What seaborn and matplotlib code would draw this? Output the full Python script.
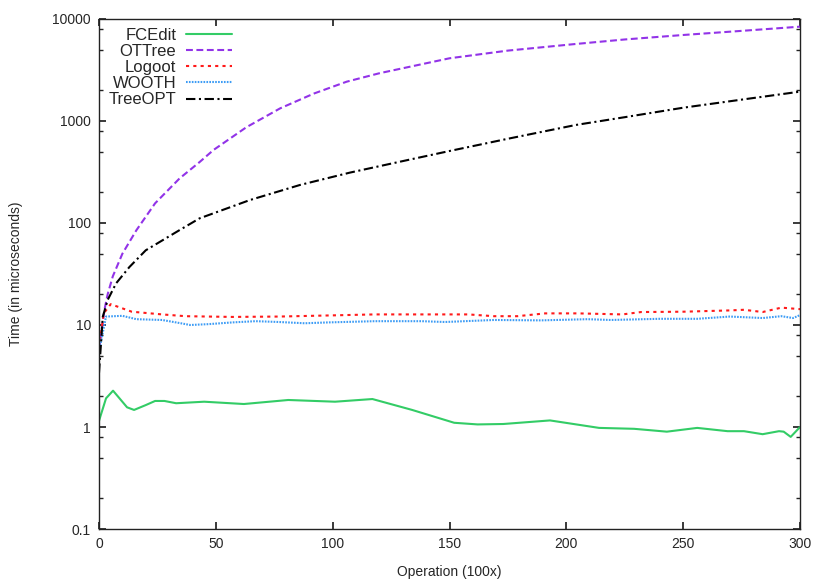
import numpy as np
import pandas as pd
import matplotlib
matplotlib.use("Agg")
import matplotlib.pyplot as plt
import matplotlib.ticker as mticker
import seaborn as sns

# ── Data ────────────────────────────────────────────────────────────────────
fcedit_x = [0, 3, 6, 12, 15, 20, 24, 28, 33, 45, 62, 81, 101, 117, 134, 152,
            162, 173, 193, 214, 229, 243, 256, 269, 276, 284, 291, 293, 296, 300]
fcedit_y = [1.15, 1.91, 2.27, 1.56, 1.47, 1.64, 1.80, 1.80, 1.71, 1.77, 1.68,
            1.84, 1.77, 1.88, 1.47, 1.10, 1.06, 1.07, 1.16, 0.98, 0.96, 0.90,
            0.98, 0.91, 0.91, 0.85, 0.91, 0.90, 0.80, 1.0]

ottree_x = [0, 2.3, 3.7, 5.9, 10, 16, 24, 34.5, 43, 49, 63, 77.5, 92, 106,
            120, 150, 175, 204, 225, 250, 275, 300]
ottree_y = [5.7, 14, 20, 30, 50, 85, 156, 274, 395, 520, 867, 1330, 1860,
            2430, 2940, 4120, 4900, 5690, 6300, 6970, 7650, 8410]

logoot_x = [0, 2, 5, 14, 27, 37, 57, 77, 98, 118, 138, 158, 169, 179, 191,
            205, 224, 232, 250, 270, 276, 284, 292, 300]
logoot_y = [6, 13, 16, 13.5, 12.7, 12.2, 12.0, 12.1, 12.4, 12.7, 12.7, 12.7,
            12.2, 12.2, 13.0, 13.0, 12.7, 13.4, 13.5, 13.9, 14.1, 13.4, 14.8, 14.3]

wooth_x = [0, 3, 10, 16, 27, 35, 39, 47, 57, 67, 77, 88, 98, 118, 138, 148,
           169, 189, 209, 219, 240, 256, 270, 284, 292, 297, 300]
wooth_y = [5.5, 12.1, 12.3, 11.4, 11.2, 10.4, 10.0, 10.2, 10.6, 10.9, 10.7,
           10.4, 10.6, 10.9, 10.9, 10.7, 11.2, 11.1, 11.4, 11.2, 11.5, 11.5,
           12.1, 11.7, 12.2, 11.7, 12.5]

treeopt_x = [0, 1.6, 3.7, 7.3, 13, 20, 34.4, 43, 64.6, 86, 107.4, 128.8, 150,
             175, 204, 225, 250, 275, 300]
treeopt_y = [3.4, 12, 17.6, 25.6, 37, 54, 85, 111, 168, 236, 312, 399, 508,
             670, 914, 1090, 1350, 1620, 1940]

series_names = ["FCEdit", "OTTree", "Logoot", "WOOTH", "TreeOPT"]
series_data = [(fcedit_x, fcedit_y), (ottree_x, ottree_y), (logoot_x, logoot_y),
               (wooth_x, wooth_y), (treeopt_x, treeopt_y)]

df = pd.concat([pd.DataFrame({"op": xs, "time": ys, "series": name})
                for name, (xs, ys) in zip(series_names, series_data)],
               ignore_index=True)

palette = {"FCEdit": "#33cc66", "OTTree": "#9233e8", "Logoot": "#ff1a1a",
           "WOOTH": "#3d9cf5", "TreeOPT": "#000000"}
dashes = {"FCEdit": "", "OTTree": (3.3, 1.7), "Logoot": (1.5, 2.0),
          "WOOTH": (0.8, 0.6), "TreeOPT": (4.5, 1.7, 1.0, 1.7)}

# ── Style ───────────────────────────────────────────────────────────────────
sns.set_theme(style="ticks")
plt.rcParams["font.family"] = ["Liberation Sans", "DejaVu Sans"]
plt.rcParams.update({"font.size": 10, "axes.linewidth": 1.0,
                     "xtick.direction": "in", "ytick.direction": "in",
                     "xtick.major.size": 5, "ytick.major.size": 5,
                     "ytick.minor.size": 3, "axes.edgecolor": "#222222"})

fig = plt.figure(figsize=(8.30, 5.81), dpi=100)
ax = fig.add_axes([0.1193, 0.0895, 0.8446, 0.8778])

sns.lineplot(data=df, x="op", y="time", hue="series", style="series",
             hue_order=series_names, style_order=series_names,
             palette=palette, dashes=dashes, estimator=None, sort=True,
             lw=1.5, ax=ax)

ax.set_yscale("log")
ax.set_xlim(0, 300)
ax.set_ylim(0.1, 10000)
ax.set_xticks(np.arange(0, 301, 50))
ax.yaxis.set_major_locator(mticker.FixedLocator([0.1, 1, 10, 100, 1000, 10000]))
ax.yaxis.set_major_formatter(mticker.FuncFormatter(lambda v, _: f"{v:g}"))
ax.yaxis.set_minor_locator(mticker.LogLocator(base=10, subs=[2, 5, 8]))
ax.yaxis.set_minor_formatter(mticker.NullFormatter())
ax.tick_params(which="both", top=True, right=True, labelsize=10, color="#222222")
ax.tick_params(axis="x", which="minor", top=False, bottom=False)
ax.tick_params(axis="x", which="major", pad=5.5)
ax.tick_params(axis="y", which="major", pad=5.7)

ax.set_xlabel("Operation (100x)", fontsize=10, labelpad=10)
ax.set_ylabel("Time (in microseconds)", fontsize=10, labelpad=21)

leg = ax.legend(loc="upper right", bbox_to_anchor=(0.19, 0.983),
                markerfirst=False, frameon=False, borderpad=0,
                borderaxespad=0, handlelength=2.76, handletextpad=0.6,
                labelspacing=0.07, fontsize=12)

fig.savefig("out.png", dpi=100)
